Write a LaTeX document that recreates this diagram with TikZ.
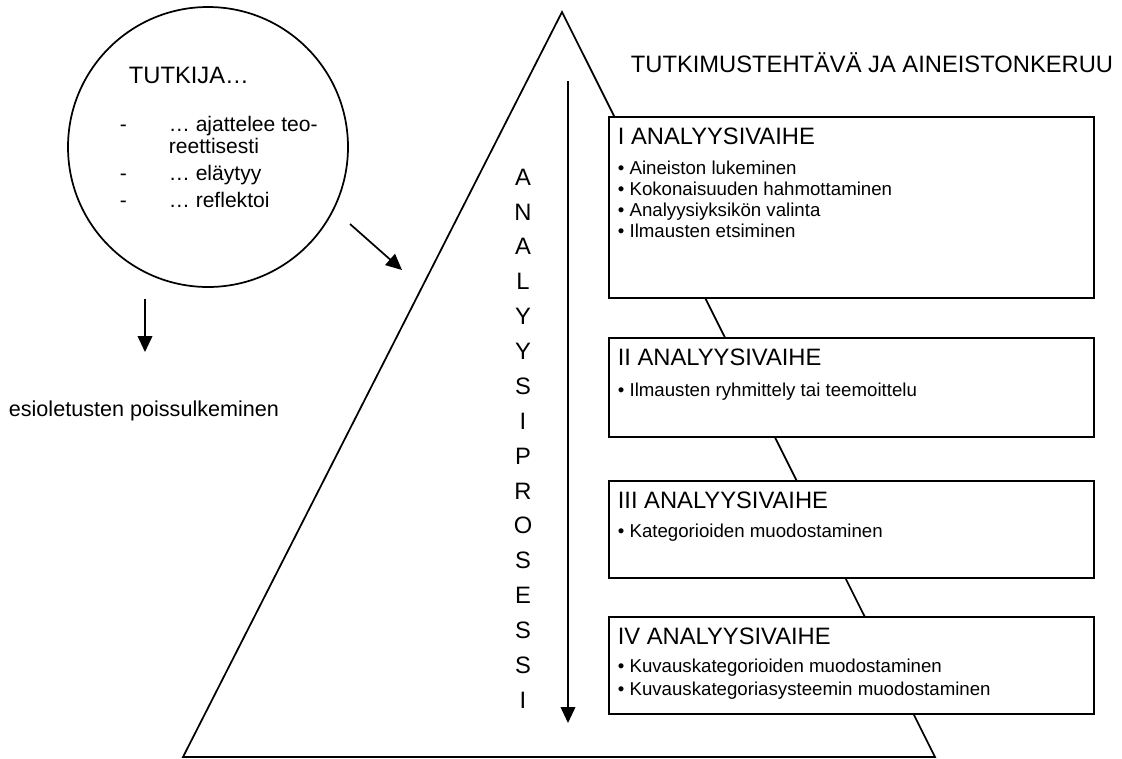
\documentclass[tikz,border=0pt]{standalone}
\usepackage{fontspec}
\setmainfont{Liberation Sans}
\usetikzlibrary{arrows.meta,positioning}

\begin{document}
\begin{tikzpicture}[x=0.75pt,y=-0.75pt,line width=1.3pt,
        every node/.style={inner sep=0pt},
        >={Triangle[length=12pt,width=11pt]},
        iso/.style={font=\fontsize{17.8}{21}\selectfont,anchor=base west},
        piste/.style={font=\fontsize{15.8}{19}\selectfont,anchor=base west},
        kohta/.style={font=\fontsize{14}{17}\selectfont,anchor=base west},
        vaihe/.style={draw,fill=white,line width=1.7pt,minimum width=363.75pt,anchor=north west}]
       \useasboundingbox(0,0)rectangle(1122,758);
       % kolmio ja prosessin nuoli
       \draw(562,12)coordinate(huippu)--(935,757)coordinate(oikea)--(183,757)coordinate(vasen)--cycle;
       \coordinate(p1)at(568,81);\coordinate(p2)at(568,723);
       \draw[->](p1)--(p2);
       \foreach \c[count=\i from 0] in {A,N,A,L,Y,Y,S,I,P,R,O,S,E,S,S,I}
         \node[font=\fontsize{17.8}{21}\selectfont](kirjain\i)at(523,{177+34.87*\i}){\c};
       \node[iso](tehtava)at(630,72){TUTKIMUSTEHTÄVÄ JA AINEISTONKERUU};
       % tutkija
       \node[draw,circle,minimum size=210pt](tutkija)at(208,147){};
       \node[iso](otsikko)at(128,83){TUTKIJA…};
       \foreach \y/\v/\t[count=\i] in {131/-/… ajattelee teo-,153//reettisesti,180/-/… eläytyy,207/-/… reflektoi}{
         \node[piste](viiva\i)at(119,\y){\v};
         \node[piste](teksti\i)at(168,\y){\t};}
       \coordinate(a1)at(350,224);\coordinate(a2)at(402,270);
       \draw[->](a1)--(a2);
       \coordinate(b1)at(145,299);\coordinate(b2)at(145,352);
       \draw[->](b1)--(b2);
       \node[font=\fontsize{16.2}{19}\selectfont,anchor=base west](esioletus)at(8,416){esioletusten poissulkeminen};
       % analyysivaiheet
       \node[vaihe,minimum height=135.75pt](vaihe1)at(608,116){};
       \node[vaihe,minimum height=74.25pt](vaihe2)at(608,337){};
       \node[vaihe,minimum height=72.75pt](vaihe3)at(608,480){};
       \node[vaihe,minimum height=72.75pt](vaihe4)at(608,616){};
       \foreach \n/\t in {1/I,2/II,3/III,4/IV}
         \node[iso](nimi\n)at([shift={(9,28)}]vaihe\n.north west){\t\ ANALYYSIVAIHE};
       \foreach \t[count=\i from 0] in {Aineiston lukeminen,Kokonaisuuden hahmottaminen,Analyysiyksikön valinta,Ilmausten etsiminen}
         \node[kohta]at([shift={(9,{58+21.3*\i})}]vaihe1.north west){• \t};
       \node[kohta](kohta2)at([shift={(9,59)}]vaihe2.north west){• Ilmausten ryhmittely tai teemoittelu};
       \node[kohta](kohta3)at([shift={(9,57)}]vaihe3.north west){• Kategorioiden muodostaminen};
       \foreach \t[count=\i from 0] in {Kuvauskategorioiden muodostaminen,Kuvauskategoriasysteemin muodostaminen}
         \node[kohta]at([shift={(9,{56+23*\i})}]vaihe4.north west){• \t};
    \end{tikzpicture}
\end{document}
